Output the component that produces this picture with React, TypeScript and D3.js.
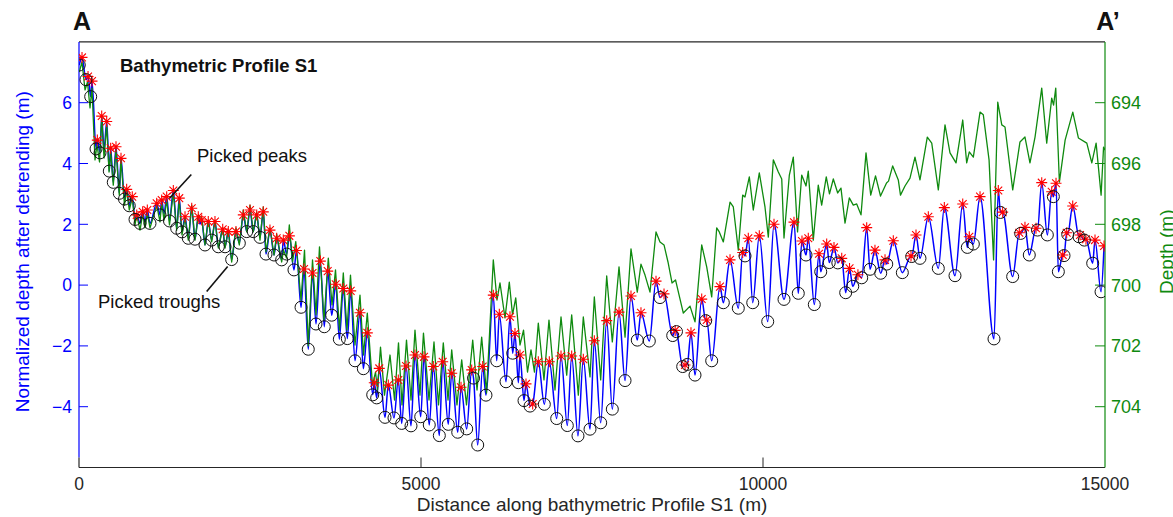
import React from "react";
import * as d3 from "d3";

// ---------- data ----------
const xTicks = [0, 5000, 10000, 15000];
const leftTicks = [-4, -2, 0, 2, 4, 6];
const rightTicks = [694, 696, 698, 700, 702, 704];

// [distance (m), normalized depth after detrending (m), pick: P = peak, T = trough]
const blueProfile: [number, number, string][] = [
  [4,7.24,'T'],[44,7.49,'P'],[102,6.76,'T'],[132,6.86,'P'],[171,6.20,'T'],[190,6.71,'P'],[249,4.48,'T'],[268,4.77,'P'],[307,4.35,'T'],[332,5.56,'P'],[366,4.44,''],[405,5.38,'P'],[443,3.75,'T'],[463,4.50,'P'],[501,3.38,'T'],[541,4.55,'P'],[589,3.02,'T'],[614,4.17,'P'],[665,2.83,'T'],[697,3.15,'P'],[735,2.61,'T'],[779,2.91,'P'],[819,2.16,'T'],[844,2.31,'P'],[892,2.03,'T'],[931,2.41,'P'],[965,2.08,''],[999,2.47,'P'],[1038,2.03,'T'],[1136,2.69,'P'],[1184,2.31,'T'],[1209,2.80,'P'],[1243,2.34,''],[1282,2.91,'P'],[1323,2.11,'T'],[1379,3.11,'P'],[1428,1.87,'T'],[1466,2.86,'P'],[1506,1.75,'T'],[1550,2.25,'P'],[1598,1.54,'T'],[1648,2.53,'P'],[1696,1.51,'T'],[1744,2.25,'P'],[1769,2.01,''],[1794,2.14,'P'],[1842,1.32,'T'],[1890,2.09,'P'],[1940,1.48,'T'],[1988,2.09,'P'],[2037,1.26,'T'],[2101,1.84,'P'],[2135,1.26,'T'],[2183,1.76,'P'],[2232,0.84,'T'],[2295,1.76,'P'],[2344,1.38,'T'],[2402,2.31,'P'],[2452,1.76,'T'],[2500,2.47,'P'],[2548,1.76,'T'],[2598,2.31,'P'],[2646,1.57,'T'],[2694,2.41,'P'],[2734,1.02,'T'],[2792,1.81,'P'],[2851,0.99,'T'],[2890,1.54,'P'],[2963,0.83,'T'],[2987,1.48,'P'],[3037,1.02,'T'],[3075,1.62,'P'],[3143,0.50,'T'],[3180,1.14,'P'],[3246,-0.73,'T'],[3290,0.53,'P'],[3352,-2.11,'T'],[3414,0.40,'P'],[3465,-1.28,'T'],[3528,0.79,'P'],[3586,-1.37,'T'],[3636,0.46,'P'],[3695,-0.99,'T'],[3753,0.03,'P'],[3806,-1.78,'T'],[3864,-0.11,'P'],[3923,-1.76,'T'],[3972,-0.19,'P'],[4035,-2.49,'T'],[4108,-0.91,'P'],[4157,-2.75,'T'],[4215,-1.57,'P'],[4294,-3.61,'T'],[4317,-3.21,'P'],[4352,-3.71,'T'],[4390,-2.74,'P'],[4474,-4.35,'T'],[4522,-3.29,'P'],[4605,-4.37,'T'],[4668,-3.12,'P'],[4718,-4.55,'T'],[4781,-2.66,'P'],[4854,-4.63,'T'],[4912,-2.30,'P'],[4996,-4.33,'T'],[5044,-2.36,'P'],[5121,-4.60,'T'],[5180,-2.68,'P'],[5268,-4.95,'T'],[5317,-2.52,'P'],[5399,-4.58,'T'],[5449,-2.90,'P'],[5537,-4.84,'T'],[5585,-3.36,'P'],[5668,-4.73,'T'],[5741,-2.79,'P'],[5768,-3.06,'T'],[5829,-5.26,'T'],[5902,-2.68,'P'],[5950,-3.62,'T'],[6057,-0.33,'P'],[6107,-2.49,'T'],[6145,-0.96,'P'],[6243,-3.18,'T'],[6301,-1.04,'P'],[6341,-2.24,'T'],[6374,-1.59,'P'],[6423,-3.21,'T'],[6447,-2.30,'P'],[6506,-3.80,'T'],[6535,-3.25,'P'],[6594,-3.98,'T'],[6633,-3.91,'P'],[6715,-2.52,'P'],[6803,-3.92,'T'],[6876,-2.52,'P'],[6984,-4.39,'T'],[7047,-2.33,'P'],[7139,-4.62,'T'],[7203,-2.33,'P'],[7295,-4.96,'T'],[7373,-2.44,'P'],[7471,-4.74,'T'],[7534,-1.83,'P'],[7627,-4.53,'T'],[7715,-1.17,'P'],[7797,-4.08,'T'],[7895,-0.89,'P'],[7983,-3.14,'T'],[8070,-0.36,'P'],[8162,-1.81,'T'],[8216,-0.91,'P'],[8338,-1.84,'T'],[8436,0.13,'P'],[8494,-0.41,'T'],[8553,-0.29,'P'],[8680,-1.66,'T'],[8716,-1.49,'P'],[8735,-1.53,'T'],[8826,-2.68,'T'],[8860,-2.63,'P'],[8893,-2.61,'T'],[8947,-1.57,'P'],[9006,-2.96,'T'],[9104,-0.46,'P'],[9162,-1.17,'T'],[9177,-1.15,'P'],[9250,-2.49,'T'],[9371,-0.05,'P'],[9420,-0.58,'T'],[9518,0.83,'P'],[9639,-0.76,'T'],[9703,1.07,'P'],[9737,0.96,'T'],[9785,1.54,'P'],[9850,-0.58,'T'],[9946,1.62,'P'],[10069,-1.20,'T'],[10161,2.00,'P'],[10307,-0.47,'T'],[10453,2.07,'P'],[10516,-0.27,'T'],[10570,1.45,'P'],[10629,0.99,'T'],[10662,1.54,'P'],[10750,-0.64,'T'],[10819,1.03,'P'],[10844,0.44,'T'],[10931,1.35,'P'],[10969,0.74,'T'],[11038,1.24,'P'],[11094,0.73,'T'],[11151,0.88,'P'],[11209,-0.25,'T'],[11265,0.55,'P'],[11312,-0.04,'T'],[11388,0.34,'P'],[11443,0.24,'T'],[11516,1.89,'P'],[11565,0.52,'T'],[11637,1.15,'P'],[11721,0.39,'T'],[11784,0.83,'P'],[11809,0.69,'T'],[11905,1.46,'P'],[12037,0.41,'T'],[12164,0.96,'P'],[12174,0.94,'T'],[12237,1.65,'P'],[12295,0.88,'T'],[12417,2.25,'P'],[12563,0.55,'T'],[12651,2.55,'P'],[12807,0.31,'T'],[12920,2.67,'P'],[12987,1.24,'T'],[13016,1.59,'P'],[13075,1.35,'T'],[13173,2.91,'P'],[13377,-1.77,'T'],[13440,3.11,'P'],[13472,2.39,'T'],[13504,2.40,'P'],[13650,0.28,'T'],[13747,1.72,'P'],[13767,1.70,'T'],[13830,1.90,'P'],[13893,0.99,'T'],[13991,1.87,'P'],[14013,1.81,'T'],[14075,3.37,'P'],[14157,1.65,'T'],[14221,3.07,'P'],[14245,2.91,'T'],[14284,3.35,'P'],[14318,0.44,'T'],[14382,0.99,'P'],[14401,0.97,'T'],[14440,1.72,'P'],[14455,1.67,'T'],[14528,2.60,'P'],[14620,1.59,'T'],[14635,1.65,'P'],[14698,1.48,'T'],[14722,1.51,'P'],[14820,0.72,'T'],[14854,1.48,'P'],[14942,-0.22,'T'],[14986,1.29,'P'],
];

// [distance (m), depth (m)]
const greenDepth: [number, number][] = [
  [4,692.99],[44,692.66],[88,693.58],[124,693.32],[161,694.17],[190,693.52],[234,695.88],[263,695.39],[300,695.95],[332,694.50],[366,695.82],[405,694.73],[439,696.28],[463,695.62],[501,696.71],[541,695.56],[589,697.04],[614,695.88],[665,697.37],[697,696.87],[735,697.53],[779,697.13],[819,698.02],[844,697.69],[892,698.19],[931,697.66],[965,698.12],[999,697.63],[1038,698.12],[1136,697.37],[1184,697.92],[1209,697.30],[1243,697.86],[1282,697.20],[1323,698.02],[1379,696.97],[1428,698.19],[1466,697.20],[1506,698.35],[1550,697.79],[1598,698.52],[1648,697.37],[1696,698.52],[1744,697.69],[1794,697.79],[1842,698.68],[1890,697.86],[1940,698.58],[1988,697.86],[2037,698.78],[2101,698.12],[2135,698.78],[2183,698.19],[2232,699.24],[2295,698.12],[2344,698.68],[2402,697.53],[2452,698.25],[2500,697.37],[2548,698.25],[2598,697.60],[2646,698.52],[2694,697.43],[2734,698.91],[2792,698.12],[2851,699.01],[2890,698.32],[2963,699.24],[2990,698.85],[3034,699.11],[3075,698.02],[3121,699.24],[3169,698.57],[3246,700.49],[3297,698.85],[3352,702.00],[3414,699.17],[3465,700.98],[3516,698.74],[3582,701.15],[3645,699.11],[3699,700.65],[3750,699.50],[3809,701.48],[3864,699.60],[3918,701.48],[3969,699.67],[4035,701.97],[4108,700.33],[4159,702.30],[4215,700.92],[4291,703.29],[4335,702.86],[4364,703.45],[4408,702.04],[4466,703.62],[4547,702.30],[4613,703.78],[4671,701.90],[4722,703.94],[4788,701.81],[4854,703.78],[4912,701.48],[4985,703.62],[5036,701.58],[5117,703.78],[5190,701.87],[5256,703.94],[5326,701.90],[5395,703.78],[5449,702.13],[5526,703.94],[5595,702.46],[5665,703.94],[5756,701.81],[5819,703.45],[5887,701.71],[5958,703.55],[6057,699.17],[6111,700.49],[6155,699.93],[6228,701.08],[6291,699.90],[6338,700.98],[6385,700.42],[6447,701.97],[6499,701.48],[6557,702.86],[6608,702.13],[6659,702.86],[6715,701.25],[6798,703.12],[6871,701.15],[6959,703.45],[7047,701.05],[7130,702.96],[7203,700.98],[7300,703.62],[7373,701.05],[7471,703.02],[7534,700.39],[7627,703.12],[7715,699.70],[7797,701.87],[7895,699.40],[7983,701.71],[8070,698.81],[8162,700.23],[8216,699.31],[8275,699.67],[8348,700.23],[8436,698.25],[8494,698.58],[8553,698.68],[8611,699.24],[8670,699.93],[8721,699.83],[8835,700.92],[8933,700.69],[9006,701.21],[9104,698.68],[9177,699.40],[9250,700.39],[9323,698.12],[9361,698.25],[9420,698.58],[9518,697.27],[9566,697.43],[9639,698.85],[9703,697.04],[9737,697.10],[9800,696.44],[9858,697.53],[9946,696.31],[10029,697.43],[10078,698.42],[10151,695.88],[10224,696.28],[10274,696.51],[10307,698.45],[10385,696.38],[10443,695.79],[10505,698.25],[10566,696.38],[10629,696.74],[10662,696.25],[10735,698.52],[10808,696.71],[10858,697.37],[10925,696.44],[10972,697.00],[11028,696.51],[11092,696.97],[11140,696.81],[11199,697.96],[11262,697.13],[11320,697.37],[11370,697.33],[11433,697.69],[11506,695.65],[11575,697.04],[11645,696.41],[11718,697.07],[11806,696.64],[11835,696.58],[11896,696.08],[11978,696.54],[12010,697.04],[12076,696.74],[12149,696.48],[12222,695.79],[12295,696.54],[12402,695.13],[12467,695.33],[12563,696.87],[12661,694.73],[12734,695.65],[12822,695.98],[12920,694.57],[12978,695.98],[13016,695.62],[13075,695.79],[13173,694.31],[13221,694.40],[13305,695.88],[13371,699.17],[13432,693.98],[13491,694.73],[13538,694.80],[13651,696.87],[13757,695.29],[13830,695.13],[13903,695.98],[13977,695.13],[14075,693.52],[14148,695.33],[14221,693.85],[14248,694.08],[14280,693.52],[14333,696.61],[14417,695.23],[14529,694.31],[14611,695.16],[14734,695.33],[14807,695.98],[14870,695.33],[14943,697.04],[14979,695.46],[15000,695.56],
];

// annotation anchors (distance, normalized depth) of the pointed-at picks
const peakNote = { label: "Picked peaks", at: [1379, 3.11] as [number, number] };
const troughNote = { label: "Picked troughs", at: [2232, 0.84] as [number, number] };

// ---------- layout ----------
const W = 1173, H = 517;
const L = 79, R = 1105, T = 41.9, B = 467.5;
const FONT = "'Liberation Sans', Arial, Helvetica, sans-serif";
const BLUE = "#0000ff";
const GREEN = "#0f8a0f";
const AX = "#262626";

export default function App() {
  const x = d3.scaleLinear().domain([0, 15000]).range([L, R]);
  const yL = d3.scaleLinear().domain([-6, 8]).range([B, T]);
  const yR = d3.scaleLinear().domain([706, 692]).range([B, T]);

  const blueLine = d3.line<[number, number, string]>()
    .x(d => x(d[0])).y(d => yL(d[1]))
    .curve(d3.curveMonotoneX)(blueProfile) || "";
  const greenLine = d3.line<[number, number]>().x(d => x(d[0])).y(d => yR(d[1]))(greenDepth) || "";
  const peaks = blueProfile.filter(d => d[2] === "P");
  const troughs = blueProfile.filter(d => d[2] === "T");
  const star = "M-5.5,0H5.5M0,-5.5V5.5M-3.9,-3.9L3.9,3.9M-3.9,3.9L3.9,-3.9";

  const pk = [x(peakNote.at[0]), yL(peakNote.at[1])];
  const tr = [x(troughNote.at[0]), yL(troughNote.at[1])];

  return (
    <svg width={W} height={H} style={{ position: "absolute", left: 0, top: 0, display: "block", background: "#fff" }}
      fontFamily={FONT}>
      <defs>
        <clipPath id="plot"><rect x={L} y={T - 6} width={R - L} height={B - T + 6} /></clipPath>
      </defs>

      {/* frame */}
      <line x1={L} x2={R} y1={T} y2={T} stroke={AX} strokeWidth={1.2} />
      <line x1={L} x2={R} y1={B} y2={B} stroke={AX} strokeWidth={1.2} />
      <line x1={L} x2={L} y1={T} y2={B - 10} stroke={BLUE} strokeWidth={1.2} />
      <line x1={L} x2={L} y1={B - 10} y2={B} stroke={AX} strokeWidth={1.2} />
      <line x1={R} x2={R} y1={T} y2={B} stroke={GREEN} strokeWidth={1.2} />

      {/* x ticks */}
      {xTicks.map(t => (
        <g key={"x" + t}>
          {t > 0 && t < 15000 && <line x1={x(t)} x2={x(t)} y1={B} y2={B - 10} stroke={AX} strokeWidth={1} />}
          <text x={x(t)} y={490} textAnchor="middle" fontSize={17.5} fill={AX}>{t}</text>
        </g>
      ))}
      <text x={(L + R) / 2} y={511} textAnchor="middle" fontSize={19} fill={AX}>
        Distance along bathymetric Profile S1 (m)
      </text>

      {/* left axis */}
      {leftTicks.map(t => (
        <g key={"l" + t}>
          <line x1={L} x2={L + 9} y1={yL(t)} y2={yL(t)} stroke={BLUE} strokeWidth={1} />
          <text x={72} y={yL(t)} dy="0.36em" textAnchor="end" fontSize={17.5} fill={BLUE}>
            {t < 0 ? "\u2212" + Math.abs(t) : String(t)}
          </text>
        </g>
      ))}
      <text transform={`translate(28.5,${(T + B) / 2 - 3}) rotate(-90)`} textAnchor="middle" fontSize={19} fill={BLUE}>
        Normalized depth after detrending (m)
      </text>

      {/* right axis */}
      {rightTicks.map(t => (
        <g key={"r" + t}>
          <line x1={R} x2={R - 10} y1={yR(t)} y2={yR(t)} stroke={GREEN} strokeWidth={1} />
          <text x={1111} y={yR(t)} dy="0.36em" textAnchor="start" fontSize={18} fill={GREEN}>{t}</text>
        </g>
      ))}
      <text transform={`translate(1173,${(T + B) / 2 - 3}) rotate(-90)`} textAnchor="middle" fontSize={19} fill={GREEN}>
        Depth (m)
      </text>

      {/* series */}
      <g clipPath="url(#plot)">
        <path d={blueLine} fill="none" stroke={BLUE} strokeWidth={1.5} strokeLinejoin="round" />
        <path d={greenLine} fill="none" stroke={GREEN} strokeWidth={1.3} strokeLinejoin="round" />
        {peaks.map((d, i) => (
          <path key={"p" + i} d={star} transform={`translate(${x(d[0])},${yL(d[1])})`} stroke="#ff0000" strokeWidth={1.1} fill="none" />
        ))}
        {troughs.map((d, i) => (
          <circle key={"t" + i} cx={x(d[0])} cy={yL(d[1])} r={6} fill="none" stroke="#111" strokeWidth={1} />
        ))}
      </g>

      {/* annotations */}
      <text x={120} y={72} fontSize={18.5} fontWeight="bold" fill="#111">Bathymetric Profile S1</text>
      <text x={197} y={162} fontSize={18.5} fill="#111">{peakNote.label}</text>
      <line x1={pk[0] - 4} y1={pk[1] + 8} x2={pk[0] + 18} y2={pk[1] - 16} stroke="#111" strokeWidth={1.6} />
      <text x={98} y={308} fontSize={18.5} fill="#111">{troughNote.label}</text>
      <line x1={tr[0] - 25} y1={tr[1] + 32} x2={tr[0] - 4} y2={tr[1] + 7} stroke="#111" strokeWidth={1.6} />

      <text x={82} y={30} textAnchor="middle" fontSize={25} fontWeight="bold" fill="#111">A</text>
      <text x={1108} y={30} textAnchor="middle" fontSize={25} fontWeight="bold" fill="#111">A’</text>
    </svg>
  );
}
